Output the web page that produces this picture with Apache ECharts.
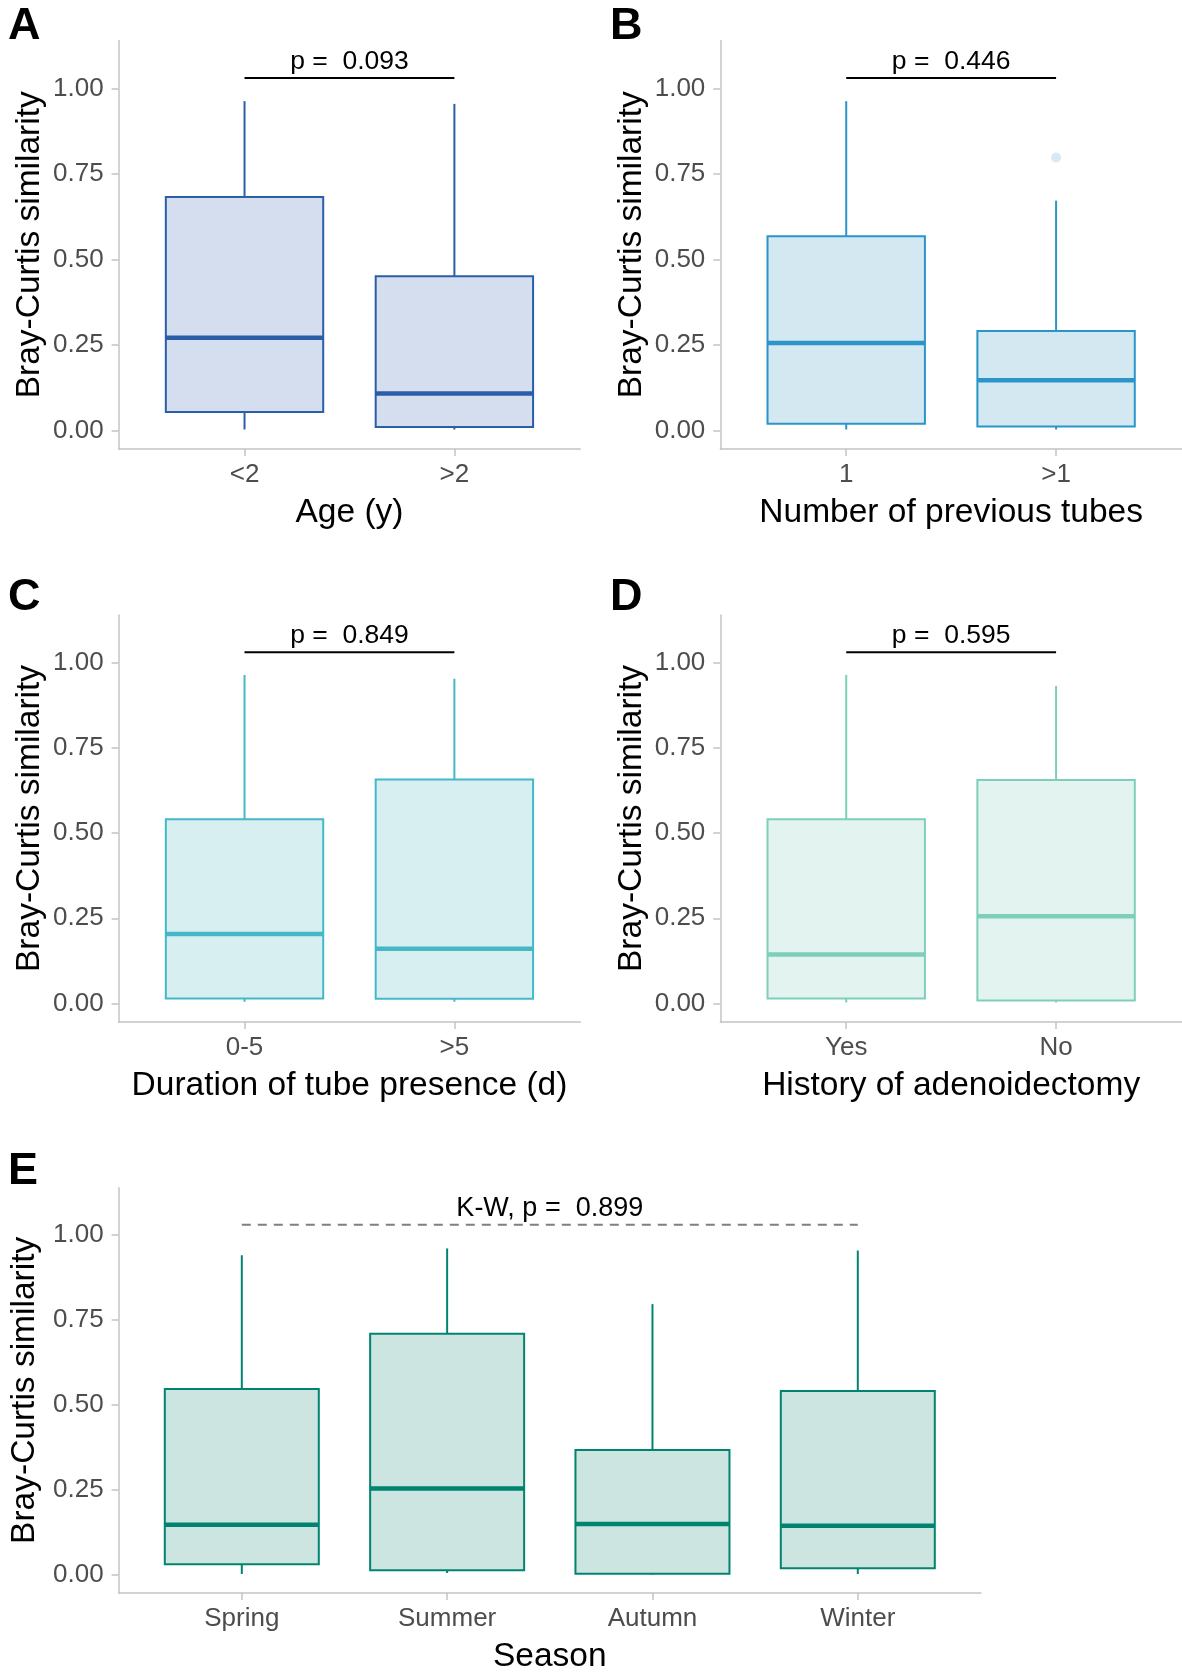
<!DOCTYPE html>
<html>
<head>
<meta charset="utf-8">
<script src="https://cdn.jsdelivr.net/npm/echarts@6/dist/echarts.min.js"></script>
<style>
  html, body { margin: 0; padding: 0; background: #fff; }
  #main { width: 1182px; height: 1675px; }
</style>
</head>
<body>
<div id="main"></div>
<script>
// tick values on every y axis
const yTicks = [0, 0.25, 0.5, 0.75, 1]

// box stats: [min, q1, median, q3, max]
const ageCats = ['<2', '>2']
const ageStats = [
  [0.003, 0.054, 0.271, 0.683, 0.963],
  [0.003, 0.010, 0.108, 0.451, 0.955]
]
const tubeCats = ['1', '>1']
const tubeStats = [
  [0.003, 0.020, 0.256, 0.568, 0.963],
  [0.003, 0.012, 0.147, 0.291, 0.672]
]
const tubeOutliers = [[2, 0.798]]
const durCats = ['0-5', '>5']
const durStats = [
  [0.005, 0.015, 0.204, 0.541, 0.964],
  [0.005, 0.014, 0.161, 0.657, 0.953]
]
const adenoCats = ['Yes', 'No']
const adenoStats = [
  [0.003, 0.015, 0.144, 0.541, 0.964],
  [0.003, 0.009, 0.256, 0.656, 0.932]
]
const seasonCats = ['Spring', 'Summer', 'Autumn', 'Winter']
const seasonStats = [
  [0.002, 0.031, 0.147, 0.547, 0.941],
  [0.005, 0.013, 0.254, 0.710, 0.961],
  [0.000, 0.003, 0.149, 0.367, 0.797],
  [0.002, 0.019, 0.144, 0.541, 0.955]
]
const pLabels = ['p =  0.093', 'p =  0.446', 'p =  0.849', 'p =  0.595', 'K-W, p =  0.899']

const FONT = '"Liberation Sans", Arial, sans-serif'
const bracketY = 1.031
const pTextY = 1.079

const panels = [
  { letter: 'A', cats: ageCats, stats: ageStats, title: 'Age (y)', color: '#2A5FA8', fill: '#D4DEEE',
    grid: { left: 118.6, top: 40.6, width: 461.7, height: 408.4 }, lx: 8, ly: 4 },
  { letter: 'B', cats: tubeCats, stats: tubeStats, title: 'Number of previous tubes', color: '#2B95C9', fill: '#D3E8F1',
    grid: { left: 720.3, top: 40.6, width: 461.7, height: 408.4 }, lx: 610, ly: 4 },
  { letter: 'C', cats: durCats, stats: durStats, title: 'Duration of tube presence (d)', color: '#45B8C7', fill: '#D8EFF2',
    grid: { left: 118.6, top: 615, width: 461.7, height: 406.9 }, lx: 8, ly: 575 },
  { letter: 'D', cats: adenoCats, stats: adenoStats, title: 'History of adenoidectomy', color: '#7DCFBA', fill: '#E3F4F0',
    grid: { left: 720.3, top: 615, width: 461.7, height: 406.9 }, lx: 610, ly: 575 },
  { letter: 'E', cats: seasonCats, stats: seasonStats, title: 'Season', color: '#00846F', fill: '#CCE5E1',
    grid: { left: 118.6, top: 1187.7, width: 862.4, height: 407 }, lx: 8, ly: 1149 }
]

function boxRender(color, fill) {
  return function (params, api) {
    const x = api.value(0)
    const lo = api.coord([x, api.value(1)])
    const q1 = api.coord([x, api.value(2)])
    const med = api.coord([x, api.value(3)])
    const q3 = api.coord([x, api.value(4)])
    const hi = api.coord([x, api.value(5)])
    const w = api.size([0.75, 0])[0]
    return {
      type: 'group',
      children: [
        { type: 'line', shape: { x1: hi[0], y1: hi[1], x2: q3[0], y2: q3[1] }, style: { stroke: color, lineWidth: 2 } },
        { type: 'line', shape: { x1: lo[0], y1: lo[1], x2: q1[0], y2: q1[1] }, style: { stroke: color, lineWidth: 2 } },
        { type: 'rect', shape: { x: q3[0] - w / 2, y: q3[1], width: w, height: q1[1] - q3[1] },
          style: { fill: fill, stroke: color, lineWidth: 2 } },
        { type: 'line', shape: { x1: med[0] - w / 2, y1: med[1], x2: med[0] + w / 2, y2: med[1] },
          style: { stroke: color, lineWidth: 4.5 } }
      ]
    }
  }
}

function bracketRender(text, dashed) {
  return function (params, api) {
    const a = api.coord([api.value(0), api.value(2)])
    const b = api.coord([api.value(1), api.value(2)])
    const t = api.coord([(api.value(0) + api.value(1)) / 2, api.value(3)])
    return {
      type: 'group',
      children: [
        { type: 'line', shape: { x1: a[0], y1: a[1], x2: b[0], y2: b[1] },
          style: dashed ? { stroke: '#808080', lineWidth: 2, lineDash: [9, 7] } : { stroke: '#000', lineWidth: 2 } },
        { type: 'text', x: t[0], y: t[1],
          style: { text: text, fill: '#000', font: (dashed ? 27 : 26.5) + 'px ' + FONT, align: 'center', verticalAlign: 'middle' } }
      ]
    }
  }
}

const grids = []
const xAxes = []
const yAxes = []
const series = []
const graphics = []

panels.forEach((p, i) => {
  const n = p.cats.length
  const xVals = p.cats.map((c, k) => k + 1)
  grids.push(p.grid)
  xAxes.push({
    type: 'value', gridIndex: i, min: 0.4, max: n + 0.6,
    name: p.title, nameLocation: 'middle', nameGap: 47,
    nameTextStyle: { color: '#000', fontSize: 33.5, fontFamily: FONT },
    axisLine: { onZero: false, lineStyle: { color: '#C4C4C4', width: 1.5 } },
    axisTick: { customValues: xVals, length: 7, lineStyle: { color: '#C4C4C4', width: 1.5 } },
    axisLabel: { customValues: xVals, margin: 13, color: '#4D4D4D', fontSize: 26, fontFamily: FONT,
      formatter: v => p.cats[Math.round(v) - 1] },
    splitLine: { show: false }
  })
  yAxes.push({
    type: 'value', gridIndex: i, min: -0.054, max: 1.14,
    name: 'Bray-Curtis similarity', nameLocation: 'middle', nameRotate: 90, nameGap: 72,
    nameTextStyle: { color: '#000', fontSize: 33.5, fontFamily: FONT },
    axisLine: { show: true, onZero: false, lineStyle: { color: '#C4C4C4', width: 1.5 } },
    axisTick: { show: true, customValues: yTicks, length: 7, lineStyle: { color: '#C4C4C4', width: 1.5 } },
    axisLabel: { customValues: yTicks, margin: 15, color: '#4D4D4D', fontSize: 26, fontFamily: FONT,
      formatter: v => v.toFixed(2) },
    splitLine: { show: false }
  })
  series.push({
    type: 'custom', xAxisIndex: i, yAxisIndex: i,
    renderItem: boxRender(p.color, p.fill),
    encode: { x: 0, y: [1, 2, 3, 4, 5] },
    data: p.stats.map((s, k) => [k + 1].concat(s))
  })
  series.push({
    type: 'custom', xAxisIndex: i, yAxisIndex: i,
    renderItem: bracketRender(pLabels[i], n > 2),
    encode: { x: [0, 1], y: [2, 3] },
    data: [[1, n, bracketY, pTextY]]
  })
  graphics.push({
    type: 'text', left: p.lx, top: p.ly,
    style: { text: p.letter, font: 'bold 45px ' + FONT, fill: '#000' }
  })
})

series.push({
  type: 'scatter', xAxisIndex: 1, yAxisIndex: 1,
  data: tubeOutliers, symbolSize: 10,
  itemStyle: { color: 'rgba(43,149,201,0.25)' }
})

const chart = echarts.init(document.getElementById('main'), null, { renderer: 'canvas' })
chart.setOption({
  backgroundColor: '#fff',
  animation: false,
  grid: grids,
  xAxis: xAxes,
  yAxis: yAxes,
  series: series,
  graphic: graphics
})
window.addEventListener('resize', () => chart.resize())
</script>
</body>
</html>
